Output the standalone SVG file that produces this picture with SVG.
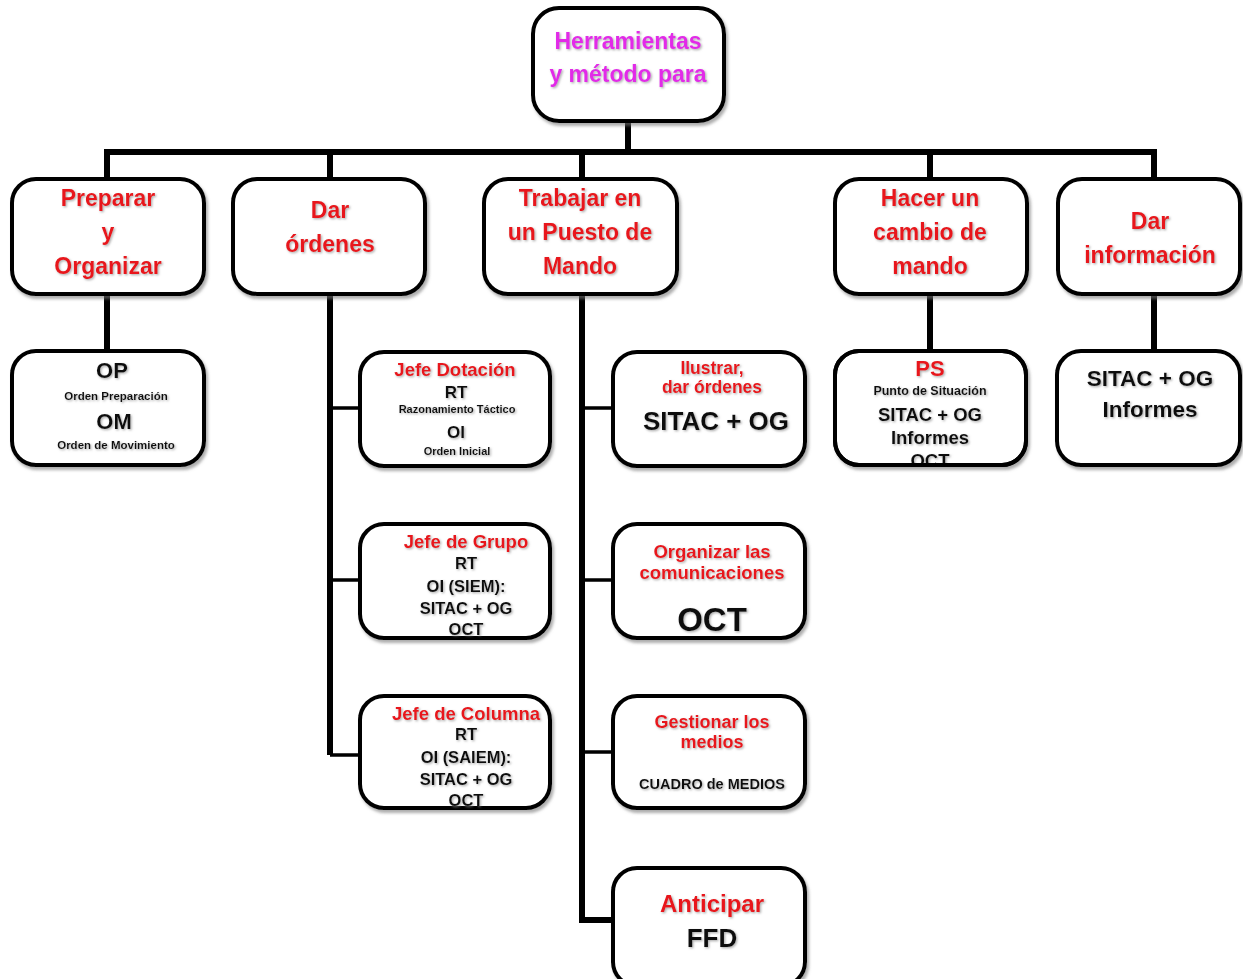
<svg xmlns="http://www.w3.org/2000/svg" width="1243" height="979" viewBox="0 0 1243 979">
<defs>
<filter id="bs" x="-10%" y="-10%" width="125%" height="130%">
<feDropShadow dx="2" dy="3" stdDeviation="1.5" flood-color="#777" flood-opacity="0.6"/>
</filter>
<filter id="ts" x="-10%" y="-20%" width="125%" height="150%">
<feDropShadow dx="1.2" dy="1.2" stdDeviation="0.8" flood-color="#888" flood-opacity="0.7"/>
</filter>
<clipPath id="psclip"><rect x="835" y="350" width="191" height="114" rx="24"/></clipPath>
</defs>
<style>
.box{fill:#fff;stroke:#000;stroke-width:4;filter:url(#bs)}
text{font-family:"Liberation Sans",Arial,sans-serif;font-weight:bold;text-anchor:middle;filter:url(#ts)}
.red{fill:#e8161b}
.mag{fill:#e22ae8}
.blk{fill:#111}
.thick{stroke:#000;stroke-width:6;fill:none}
.thin{stroke:#000;stroke-width:3.5;fill:none}
</style>
<rect width="1243" height="979" fill="#fff"/>
<g id="connectors">
<path class="thick" d="M628 122V152M104 152H1157M107 150V180M330 150V180M582 150V180M930 150V180M1154 150V180"/>
<path class="thick" d="M107 295V352M930 295V352M1154 295V352"/>
<path class="thick" d="M330 295V755M582 295V920H614"/>
<path class="thin" d="M330 408H362M330 580H362M330 755H362M582 408H615M582 580H615M582 752H615"/>
</g>
<g id="root">
<rect class="box" x="533" y="8" width="191" height="113" rx="26"/>
<text class="mag" x="628" y="49" font-size="23">Herramientas</text>
<text class="mag" x="628" y="82" font-size="23">y método para</text>
</g>
<g id="preparar">
<rect class="box" x="12" y="179" width="192" height="115" rx="24"/>
<text class="red" x="108" y="206" font-size="23">Preparar</text>
<text class="red" x="108" y="240" font-size="23">y</text>
<text class="red" x="108" y="274" font-size="23">Organizar</text>
</g>
<g id="dar-ordenes">
<rect class="box" x="233" y="179" width="192" height="115" rx="24"/>
<text class="red" x="330" y="218" font-size="23">Dar</text>
<text class="red" x="330" y="252" font-size="23">órdenes</text>
</g>
<g id="trabajar">
<rect class="box" x="484" y="179" width="193" height="115" rx="24"/>
<text class="red" x="580" y="206" font-size="23">Trabajar en</text>
<text class="red" x="580" y="240" font-size="23">un Puesto de</text>
<text class="red" x="580" y="274" font-size="23">Mando</text>
</g>
<g id="hacer">
<rect class="box" x="835" y="179" width="192" height="115" rx="24"/>
<text class="red" x="930" y="206" font-size="23">Hacer un</text>
<text class="red" x="930" y="240" font-size="23">cambio de</text>
<text class="red" x="930" y="274" font-size="23">mando</text>
</g>
<g id="dar-info">
<rect class="box" x="1058" y="179" width="182" height="115" rx="24"/>
<text class="red" x="1150" y="229" font-size="23">Dar</text>
<text class="red" x="1150" y="263" font-size="23">información</text>
</g>
<g id="op-om">
<rect class="box" x="12" y="351" width="192" height="114" rx="24"/>
<text class="blk" x="112" y="378" font-size="22">OP</text>
<text class="blk" x="116" y="400" font-size="11.5">Orden Preparación</text>
<text class="blk" x="114" y="429" font-size="22">OM</text>
<text class="blk" x="116" y="449" font-size="11.5">Orden de Movimiento</text>
</g>
<g id="jefe-dotacion">
<rect class="box" x="360" y="352" width="190" height="114" rx="24"/>
<text class="red" x="455" y="376" font-size="18.5">Jefe Dotación</text>
<text class="blk" x="456" y="398" font-size="17">RT</text>
<text class="blk" x="457" y="413" font-size="11">Razonamiento Táctico</text>
<text class="blk" x="456" y="438" font-size="17">OI</text>
<text class="blk" x="457" y="455" font-size="11">Orden Inicial</text>
</g>
<g id="jefe-grupo">
<rect class="box" x="360" y="524" width="190" height="114" rx="24"/>
<text class="red" x="466" y="548" font-size="18.5">Jefe de Grupo</text>
<text class="blk" x="466" y="569" font-size="16.5">RT</text>
<text class="blk" x="466" y="592" font-size="16.5">OI (SIEM):</text>
<text class="blk" x="466" y="614" font-size="16.5">SITAC + OG</text>
<text class="blk" x="466" y="635" font-size="16.5">OCT</text>
</g>
<g id="jefe-columna">
<rect class="box" x="360" y="696" width="190" height="112" rx="24"/>
<text class="red" x="466" y="720" font-size="18.5">Jefe de Columna</text>
<text class="blk" x="466" y="740" font-size="16.5">RT</text>
<text class="blk" x="466" y="763" font-size="16.5">OI (SAIEM):</text>
<text class="blk" x="466" y="785" font-size="16.5">SITAC + OG</text>
<text class="blk" x="466" y="806" font-size="16.5">OCT</text>
</g>
<g id="ilustrar">
<rect class="box" x="613" y="352" width="192" height="114" rx="24"/>
<text class="red" x="712" y="374" font-size="17.5">Ilustrar,</text>
<text class="red" x="712" y="393" font-size="17.5">dar órdenes</text>
<text class="blk" x="716" y="430" font-size="26">SITAC + OG</text>
</g>
<g id="organizar">
<rect class="box" x="613" y="524" width="192" height="114" rx="24"/>
<text class="red" x="712" y="558" font-size="18.5">Organizar las</text>
<text class="red" x="712" y="579" font-size="18.5">comunicaciones</text>
<text class="blk" x="712" y="631" font-size="33">OCT</text>
</g>
<g id="gestionar">
<rect class="box" x="613" y="696" width="192" height="112" rx="24"/>
<text class="red" x="712" y="728" font-size="18">Gestionar los</text>
<text class="red" x="712" y="748" font-size="18">medios</text>
<text class="blk" x="712" y="789" font-size="14.5">CUADRO de MEDIOS</text>
</g>
<g id="anticipar">
<rect class="box" x="613" y="868" width="192" height="118" rx="24"/>
<text class="red" x="712" y="912" font-size="24">Anticipar</text>
<text class="blk" x="712" y="947" font-size="26">FFD</text>
</g>
<g id="ps">
<rect class="box" x="835" y="351" width="191" height="114" rx="24"/>
<g clip-path="url(#psclip)">
<text class="red" x="930" y="376" font-size="22">PS</text>
<text class="blk" x="930" y="395" font-size="12.5">Punto de Situación</text>
<text class="blk" x="930" y="421" font-size="18.5">SITAC + OG</text>
<text class="blk" x="930" y="444" font-size="18.5">Informes</text>
<text class="blk" x="930" y="467" font-size="18.5">OCT</text>
</g>
<rect x="835" y="351" width="191" height="114" rx="24" fill="none" stroke="#000" stroke-width="4"/>
</g>
<g id="sitac-informes">
<rect class="box" x="1057" y="351" width="183" height="114" rx="24"/>
<text class="blk" x="1150" y="386" font-size="22.5">SITAC + OG</text>
<text class="blk" x="1150" y="417" font-size="22.5">Informes</text>
</g>
</svg>
